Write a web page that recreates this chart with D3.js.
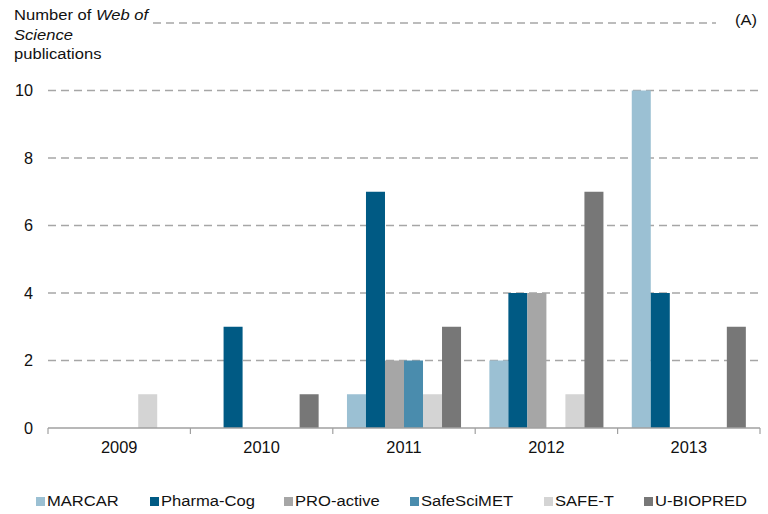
<!DOCTYPE html>
<html><head><meta charset="utf-8">
<script src="https://cdn.jsdelivr.net/npm/d3@7"></script>
<style>
body{margin:0;background:#fff;}
text{font-family:"Liberation Sans",Arial,sans-serif;}
</style></head>
<body><svg id="c" width="768" height="514"></svg>
<script>
const years = ["2009","2010","2011","2012","2013"];
const series = ["MARCAR","Pharma-Cog","PRO-active","SafeSciMET","SAFE-T","U-BIOPRED"];
const colors = ["#9bc0d3","#005a84","#a6a6a6","#4a8cad","#d4d4d4","#777777"];
const MARCAR     = [0,0,1,2,10];
const PharmaCog  = [0,3,7,4,4];
const PROactive  = [0,0,2,4,0];
const SafeSciMET = [0,0,2,0,0];
const SAFET      = [1,0,1,1,0];
const UBIOPRED   = [0,1,3,7,3];
const seriesValues = [MARCAR,PharmaCog,PROactive,SafeSciMET,SAFET,UBIOPRED];
const yTicks = [0,2,4,6,8,10];

(function(){
const svg = d3.select("#c");
const left = 48, right = 760, base = 428, topY = 23;
const x0 = d3.scaleBand().domain(years).range([left,right]).padding(0);
const x1 = d3.scaleBand().domain(series).range([0,x0.bandwidth()]).paddingInner(0).paddingOuter(0.745);
const y = d3.scaleLinear().domain([0,12]).range([base,topY]);
const ink = "#111";

function label(g, x, yy, str, size, sx, anchor){
  return g.append("text").attr("transform",`translate(${x},${yy}) scale(${sx},1)`)
    .attr("text-anchor",anchor||"start").attr("font-size",size).attr("fill",ink).text(str);
}

// gridlines
const grid = svg.append("g");
grid.selectAll("line").data(yTicks.filter(d=>d>0)).join("line")
  .attr("x1",left).attr("x2",right)
  .attr("y1",d=>y(d)).attr("y2",d=>y(d))
  .attr("stroke","#a6a6a6").attr("stroke-width",1.5).attr("stroke-dasharray","8,5");
grid.append("line").attr("x1",153).attr("x2",716).attr("y1",y(12)).attr("y2",y(12))
  .attr("stroke","#a6a6a6").attr("stroke-width",1.5).attr("stroke-dasharray","8,5");

// bars
const data = [];
years.forEach((yr,i)=>series.forEach((s,j)=>{ if(seriesValues[j][i]>0) data.push({yr,s,v:seriesValues[j][i],c:colors[j]}); }));
svg.append("g").selectAll("rect").data(data).join("rect")
  .attr("x",d=>x0(d.yr)+x1(d.s)).attr("width",x1.bandwidth())
  .attr("y",d=>y(d.v)).attr("height",d=>base-y(d.v))
  .attr("fill",d=>d.c);

// x axis
const xa = svg.append("g");
xa.append("line").attr("x1",left).attr("x2",right).attr("y1",base).attr("y2",base).attr("stroke","#a0a0a0").attr("stroke-width",1.5);
const tickXs = years.map(d=>x0(d)).concat([right]);
xa.selectAll(".tk").data(tickXs).join("line").attr("class","tk")
  .attr("x1",d=>d).attr("x2",d=>d).attr("y1",base).attr("y2",base+6).attr("stroke","#a0a0a0").attr("stroke-width",1.2);
years.forEach(d=>label(xa, x0(d)+x0.bandwidth()/2, 453, d, 15.8, 1.04, "middle"));

// y labels
const ya = svg.append("g");
yTicks.forEach(d=>label(ya, 33, y(d)+5.5, String(d), 15.8, 1.03, "end"));

// title
const tg = svg.append("g");
const t = tg.append("text").attr("transform","translate(14,19.5) scale(1.12,1)").attr("font-size",14.8).attr("fill",ink);
t.append("tspan").text("Number of ");
t.append("tspan").attr("font-style","italic").text("Web of");
label(tg, 14, 39.5, "Science", 14.8, 1.12).attr("font-style","italic");
label(tg, 14, 59, "publications", 14.8, 1.12);
label(tg, 757, 25, "(A)", 14.8, 1.12, "end");

// legend
const legX = [36,150,284,410,544,644];
const lg = svg.append("g");
series.forEach((s,i)=>{
  lg.append("rect").attr("x",legX[i]).attr("y",497).attr("width",9).attr("height",9).attr("fill",colors[i]);
  label(lg, legX[i]+11, 506, s, 14.8, 1.12);
});
})();
</script></body></html>
